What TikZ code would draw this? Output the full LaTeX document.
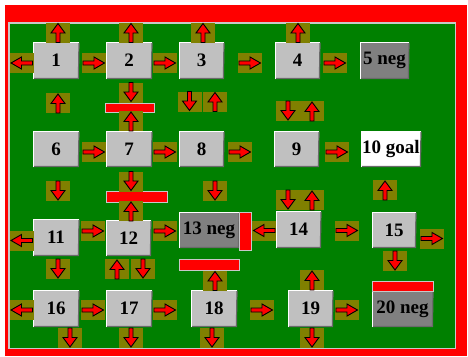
\documentclass[tikz,border=0pt]{standalone}
\usepackage{fontspec}
\setmainfont{Liberation Serif}
\definecolor{fieldgreen}{HTML}{008000}
\definecolor{olv}{HTML}{808000}
\definecolor{silv}{HTML}{C0C0C0}
\definecolor{darkg}{HTML}{808080}
\definecolor{bevdark}{HTML}{6A6A6A}
\definecolor{rimgray}{HTML}{C8C8C8}
\tikzset{
  harr/.pic={\fill[olv] (-12,-10) rectangle (12,10);
    \draw[xscale=#1, fill=red, draw=black, line width=0.9pt, line join=miter]
      (-11,-2) -- (0,-2) -- (0,-6) -- (10.5,0) -- (0,6) -- (0,2) -- (-11,2) -- cycle;},
  varr/.pic={\fill[olv] (-12,-10) rectangle (12,10);
    \draw[yscale=#1, fill=red, draw=black, line width=0.9pt, line join=miter]
      (-2,-10) -- (2,-10) -- (2,-0.5) -- (7,-0.5) -- (0,9) -- (-7,-0.5) -- (-2,-0.5) -- cycle;},
  state/.style={fill=silv, minimum width=46pt, minimum height=37pt, inner sep=0pt, outer sep=0pt,
    font=\bfseries\fontsize{19}{19}\selectfont},
  negstate/.style={state, fill=darkg},
  goalstate/.style={state, fill=white},
  wall/.style={fill=red, draw=rimgray, line width=0.8pt},
}
\begin{document}
\begin{tikzpicture}[x=1pt,y=-1pt]
\useasboundingbox (0,0) rectangle (468,356);
\fill[white] (0,0) rectangle (468,356);
% frame
\fill[red] (5,5) rectangle (467,356);
\fill[rimgray] (8,22) rectangle (456,349);
\fill[fieldgreen] (9.5,23.5) rectangle (454.5,347.5);

% states
\node[state] (b1) at (56,60.5) {1};
\node[state] (b2) at (129,60.5) {2};
\node[state, minimum width=45pt] (b3) at (201.5,60.5) {3};
\node[state, minimum width=45pt] (b4) at (297.5,60.5) {4};
\node[negstate, minimum width=49pt] (b5) at (384.5,60.5) {5 neg};
\node[state, minimum height=36pt] (b6) at (56,149) {6};
\node[state, minimum height=36pt] (b7) at (129,149) {7};
\node[state, minimum height=36pt, minimum width=45pt] (b8) at (201.5,149) {8};
\node[state, minimum height=36pt, minimum width=45pt] (b9) at (296.5,149) {9};
\node[goalstate, minimum height=36pt, minimum width=60pt] (b10) at (391,149) {10 goal};
\node[state] (b11) at (56,237.5) {11};
\node[state, minimum width=45pt, minimum height=36pt] (b12) at (128.5,238) {12};
\node[negstate, minimum width=60pt, minimum height=36pt] (b13) at (209,230) {13 neg};
\node[state, minimum width=45pt] (b14) at (298.5,229.5) {14};
\node[state, minimum width=44pt, minimum height=36pt] (b15) at (394,230) {15};
\node[state] (b16) at (56,308.5) {16};
\node[state] (b17) at (129,308.5) {17};
\node[state] (b18) at (214,308.5) {18};
\node[state, minimum width=45pt] (b19) at (310.5,308.5) {19};
\node[negstate, minimum width=61pt, minimum height=36pt] (b20) at (402.5,309) {20 neg};

\foreach \n in {b1,b2,b3,b4,b5,b6,b7,b8,b9,b10,b11,b12,b13,b14,b15,b16,b17,b18,b19,b20}{
  \draw[bevdark, line width=1.2pt] ([yshift=-0.6pt]\n.north east) -- ([xshift=-0.6pt,yshift=0.6pt]\n.south east) -- ([yshift=0.6pt]\n.south west);
  \draw[white, line width=1pt] (\n.south west) -- (\n.north west) -- (\n.north east);
}

% walls
\draw[wall] (105,103) rectangle (154,112);
\draw[wall] (106,191) rectangle (167,202);
\draw[wall] (239,212) rectangle (251,250);
\draw[wall] (179,259) rectangle (239,270);
\draw[wall] (372,281) rectangle (433,291);

% horizontal arrows (1 = right, -1 = left)
\pic at (21.5,63) {harr=-1};
\pic at (94,63) {harr=1};
\pic at (165,63) {harr=1};
\pic at (250,63) {harr=1};
\pic at (335,63) {harr=1};
\pic at (94,152) {harr=1};
\pic at (165,152) {harr=1};
\pic at (240,152) {harr=1};
\pic at (337,152) {harr=1};
\pic at (21.5,240.5) {harr=-1};
\pic at (93,231) {harr=1};
\pic at (165,231) {harr=1};
\pic at (264,230.5) {harr=-1};
\pic at (347,230.5) {harr=1};
\pic at (432,238.5) {harr=1};
\pic at (21.5,310) {harr=-1};
\pic at (93,310) {harr=1};
\pic at (165,310) {harr=1};
\pic at (262,310) {harr=1};
\pic at (347,310) {harr=1};

% vertical arrows (1 = down, -1 = up)
\pic at (58,32.5) {varr=-1};
\pic at (131,32.5) {varr=-1};
\pic at (203,32.5) {varr=-1};
\pic at (298,32.5) {varr=-1};
\pic at (58,103) {varr=-1};
\pic at (131,92.5) {varr=1};
\pic at (131,121) {varr=-1};
\pic at (189.5,101.5) {varr=1};
\pic at (215,101.5) {varr=-1};
\pic at (288,111) {varr=1};
\pic at (312,111) {varr=-1};
\pic at (58,191) {varr=1};
\pic at (131,181.5) {varr=1};
\pic at (131,211) {varr=-1};
\pic at (215,191) {varr=1};
\pic at (288,200) {varr=1};
\pic at (312,200) {varr=-1};
\pic at (385,190) {varr=-1};
\pic at (58,269) {varr=1};
\pic at (117,269) {varr=-1};
\pic at (143,269) {varr=1};
\pic at (395,261) {varr=1};
\pic at (215,280.5) {varr=-1};
\pic at (312,280) {varr=-1};
\pic at (70,338) {varr=1};
\pic at (131,338) {varr=1};
\pic at (212,338) {varr=1};
\pic at (312,338) {varr=1};
\end{tikzpicture}
\end{document}
